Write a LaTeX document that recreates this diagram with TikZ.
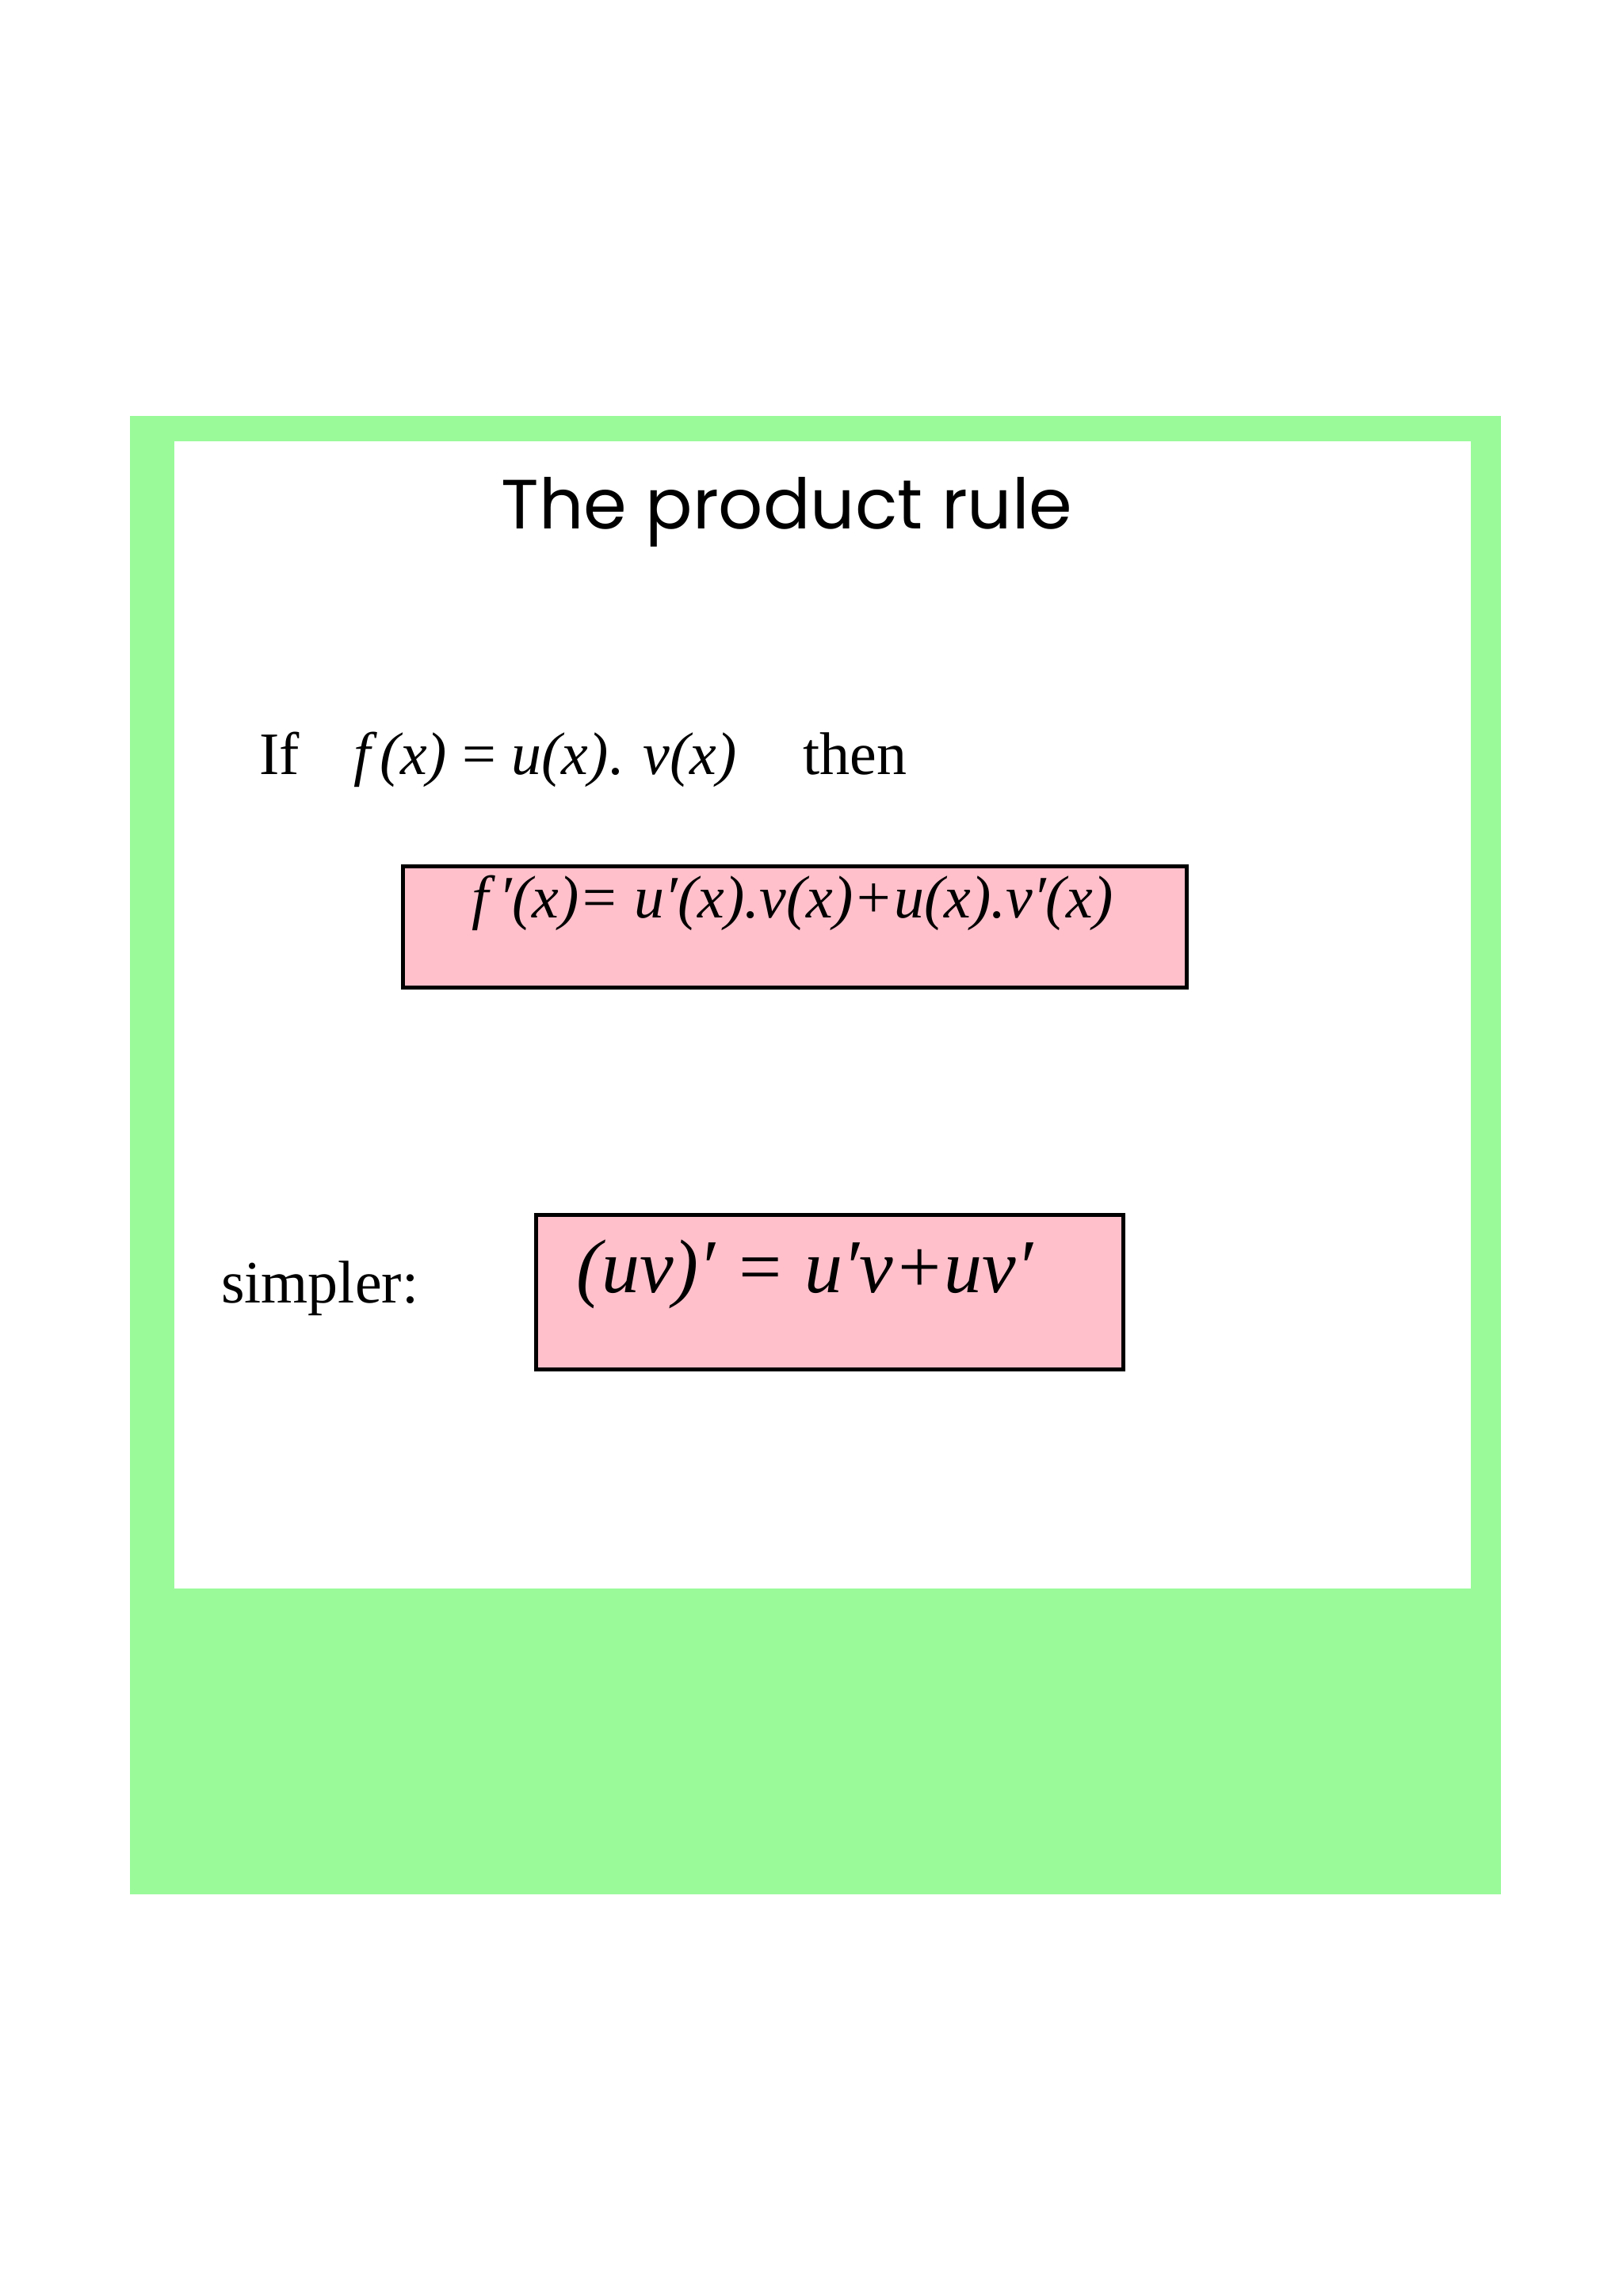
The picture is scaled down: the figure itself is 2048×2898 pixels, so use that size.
\documentclass[tikz,border=0pt]{standalone}
\usepackage{fontspec}
\setmainfont{Liberation Serif}
\newfontfamily\titlefont{Poppins}
\definecolor{lgreen}{RGB}{154,250,154}
\definecolor{lpink}{RGB}{255,192,203}
\newcommand{\pr}{\char"2032}
\begin{document}
\begin{tikzpicture}[x=0.5pt,y=-0.5pt,
  pbox/.style={draw=black,line width=2.4pt,fill=lpink}]
\useasboundingbox (0,0) rectangle (2048,2898);
\fill[white] (0,0) rectangle (2048,2898);
\fill[lgreen] (164,525) rectangle (1894,2391);
\fill[white] (220,557) rectangle (1856,2005);
\node[font=\titlefont\fontsize{44}{50}\selectfont] (title) at (993,646) {The product rule};
\node[anchor=west,font=\fontsize{38}{44}\selectfont] (if) at (320,959) {If\hspace{0.9em}\textit{f\,(x)} = \textit{u(x)}. \textit{v(x)}\hspace{1.1em}then};
\node[pbox,minimum width=494.5pt,minimum height=76.5pt,anchor=north west] (b1) at (506,1091) {};
\node[font=\itshape\fontsize{38}{44}\selectfont] (f1) at (1000,1140) {f\,\pr(x)= u\pr(x).v(x)+u(x).v\pr(x)};
\node[anchor=west,font=\fontsize{38}{44}\selectfont] (simp) at (272,1626) {simpler:};
\node[pbox,minimum width=370.5pt,minimum height=97.5pt,anchor=north west] (b2) at (674,1531) {};
\node[anchor=west,font=\itshape\fontsize{48}{54}\selectfont] (f2) at (720,1608) {(uv)\pr\ = u\pr v+uv\pr};
\end{tikzpicture}
\end{document}
